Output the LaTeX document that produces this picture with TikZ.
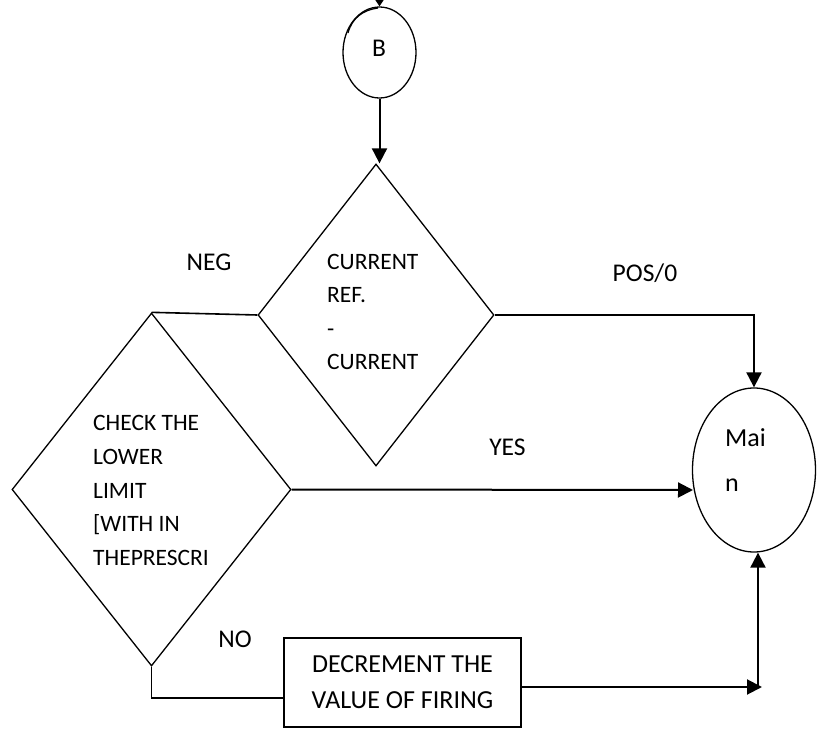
\documentclass[tikz,border=0pt]{standalone}
\usepackage{fontspec}
\setmainfont{Carlito}
\usetikzlibrary{shapes.geometric,arrows.meta,calc}
\begin{document}
\begin{tikzpicture}[x=1pt,y=-1pt,
  shapeline/.style={draw, line width=1.3pt, inner sep=0pt},
  conn/.style={line width=2pt, -{Triangle[length=15pt,width=15pt]}},
  plain/.style={line width=1.6pt},
  txt/.style={font=\fontsize{23.5}{33.6}\selectfont, inner sep=0pt, align=left},
  lbl/.style={font=\fontsize{25.5}{30}\selectfont, inner sep=0pt}]
\useasboundingbox (0,0) rectangle (823,730);
% shapes
\node[shapeline, ellipse, minimum width=73pt, minimum height=91pt] (B) at (379.5,52.5) {};
\node[lbl] (Bt) at (379,48) {B};
\node[shapeline, diamond, minimum width=236pt, minimum height=302pt] (d1) at (376,315) {};
\node[txt, anchor=west] (d1t) at (327,312) {CURRENT\\REF.\\-\\CURRENT};
\node[shapeline, diamond, minimum width=279pt, minimum height=353pt] (d2) at (151.5,489.5) {};
\node[txt, anchor=west] (d2t) at (93,490.5) {CHECK THE\\LOWER\\LIMIT\\{[}WITH IN\\THEPRESCRI};
\node[shapeline, ellipse, minimum width=123pt, minimum height=164pt] (M) at (754,470) {};
\node[font=\fontsize{26}{44.6}\selectfont, inner sep=0pt, align=left, anchor=west] (Mt) at (725,460.3) {Mai\\n};
\node[shapeline, rectangle, minimum width=237pt, minimum height=89pt, align=center,
      font=\fontsize{26}{36}\selectfont] (R) at (402.5,682.5) {DECREMENT THE\\VALUE OF FIRING};
% labels
\node[lbl] (neg) at (209,262) {NEG};
\node[lbl] (pos) at (645,273) {POS/0};
\node[lbl] (yes) at (507.5,447) {YES};
\node[lbl] (no) at (235,639) {NO};
% helper coordinates
\coordinate (top) at (379.5,-2);
\coordinate (c2) at (284,698);
\coordinate (c3) at (762,687);
\coordinate (c4) at (758,687);
\coordinate (c5) at (693,490);
% connectors
\draw[line width=2pt, -{Triangle[length=8pt,width=10pt]}] (top) -- (B.north);
\draw[line width=1.2pt] (348,33) .. controls (352,18) and (363,10) .. (378,8);
\draw[conn] (B.south) -- (B.south |- d1.north);
\draw[plain] (d1.west) -- (d2.north);
\draw[conn] (d1.east) -| (M.north);
\draw[conn] (d2.east) -- (c5);
\draw[plain] (d2.south) |- (c2);
\draw[conn] (R.east |- c3) -- (c3);
\draw[conn] (c4) -- (c4 |- M.south);
\end{tikzpicture}
\end{document}
